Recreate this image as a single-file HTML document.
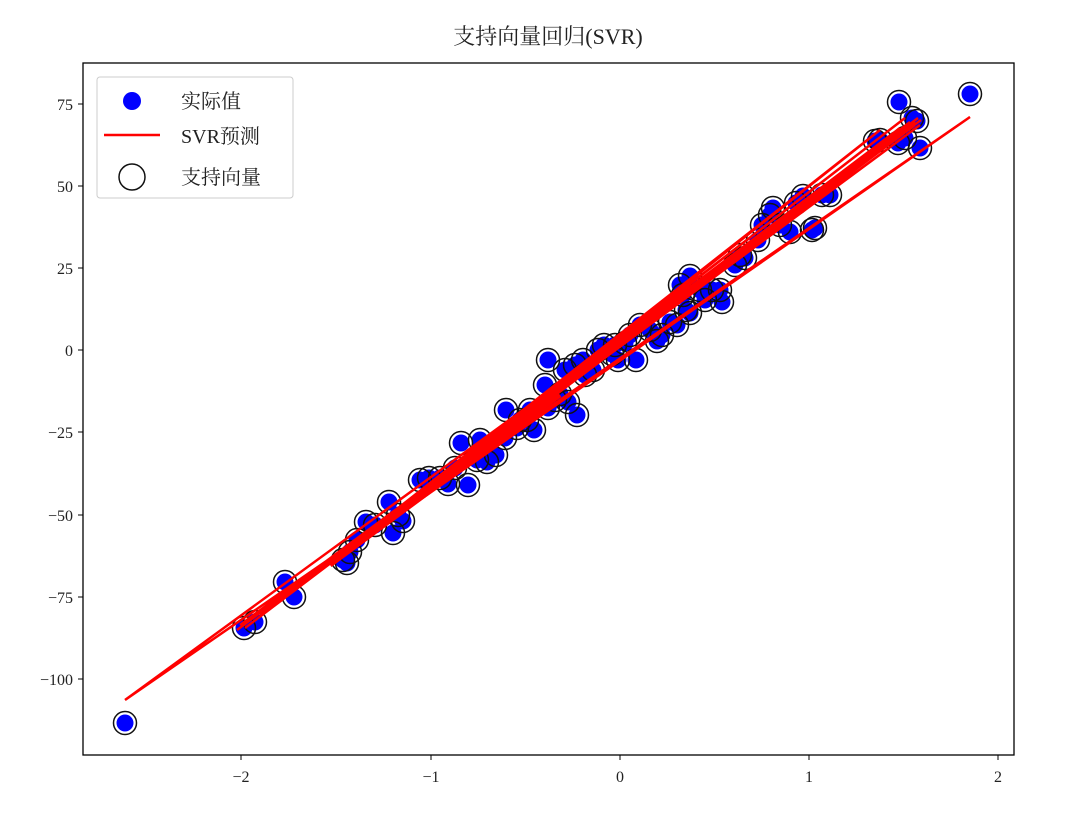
<!DOCTYPE html>
<html><head><meta charset="utf-8"><style>
body{margin:0;background:#fff}
svg text{font-family:"Liberation Serif","Noto Serif CJK SC",serif;fill:#222}
</style></head><body>
<svg width="1091" height="813" xmlns="http://www.w3.org/2000/svg">
<rect width="1091" height="813" fill="#fff"/>
<text x="548" y="44" font-size="22" text-anchor="middle">支持向量回归(SVR)</text>
<g id="pts"></g>
<polyline fill="none" stroke="#ff0000" stroke-width="2.5" points="237,630 921,120 125,700 970,117 240,625 915,125 260,615 905,118 300,585 880,130 350,550 910,122 245,628 918,118 270,606 900,128 330,560 915,122 250,620 920,125"/>
<polyline fill="none" stroke="#ff0000" stroke-width="5" points="330,565 560,395 345,550 600,360 380,525 540,405"/>
<rect x="83" y="63" width="931" height="692" fill="none" stroke="#000" stroke-width="1.3"/>
<g font-size="16" text-anchor="middle">
<line x1="241" y1="755" x2="241" y2="760" stroke="#000"/><text x="241" y="782">−2</text>
<line x1="431" y1="755" x2="431" y2="760" stroke="#000"/><text x="431" y="782">−1</text>
<line x1="620" y1="755" x2="620" y2="760" stroke="#000"/><text x="620" y="782">0</text>
<line x1="809" y1="755" x2="809" y2="760" stroke="#000"/><text x="809" y="782">1</text>
<line x1="998" y1="755" x2="998" y2="760" stroke="#000"/><text x="998" y="782">2</text>
</g>
<g font-size="16" text-anchor="end">
<line x1="78" y1="104" x2="83" y2="104" stroke="#000"/><text x="73" y="110">75</text>
<line x1="78" y1="186" x2="83" y2="186" stroke="#000"/><text x="73" y="192">50</text>
<line x1="78" y1="268" x2="83" y2="268" stroke="#000"/><text x="73" y="274">25</text>
<line x1="78" y1="350" x2="83" y2="350" stroke="#000"/><text x="73" y="356">0</text>
<line x1="78" y1="432" x2="83" y2="432" stroke="#000"/><text x="73" y="438">−25</text>
<line x1="78" y1="515" x2="83" y2="515" stroke="#000"/><text x="73" y="521">−50</text>
<line x1="78" y1="597" x2="83" y2="597" stroke="#000"/><text x="73" y="603">−75</text>
<line x1="78" y1="679" x2="83" y2="679" stroke="#000"/><text x="73" y="685">−100</text>
</g>
<rect x="97" y="77" width="196" height="121" rx="3" fill="#fff" fill-opacity="0.85" stroke="#ccc"/>
<circle cx="132" cy="101" r="9" fill="#0000ff"/>
<line x1="104" y1="135" x2="160" y2="135" stroke="#ff0000" stroke-width="2.5"/>
<circle cx="132" cy="177" r="13" fill="none" stroke="#111" stroke-width="1.5"/>
<g font-size="20"><text x="181" y="108">实际值</text><text x="181" y="143">SVR预测</text><text x="181" y="184">支持向量</text></g>
</svg>
<script>
var P=[[125,723],[244,628],[255,622],[285,582],[294,597],[366,522],[389,502],[393,533],[403,521],[343,560],[350,552],[347,563],[420,480],[429,478],[448,484],[468,485],[461,443],[477,460],[487,462],[496,455],[506,410],[505,438],[517,428],[527,420],[530,410],[534,430],[545,385],[548,360],[548,408],[560,394],[565,370],[568,402],[575,365],[577,415],[583,360],[593,370],[598,350],[604,345],[612,354],[618,360],[625,343],[630,335],[636,360],[640,325],[650,330],[657,341],[662,335],[670,322],[677,325],[680,285],[683,295],[690,276],[686,310],[690,313],[700,290],[705,300],[712,290],[722,302],[735,265],[740,255],[745,258],[758,240],[762,225],[770,215],[773,208],[790,232],[796,203],[803,196],[812,230],[815,228],[822,195],[830,195],[875,141],[899,102],[898,143],[905,138],[912,118],[917,121],[920,148],[970,94],[480,440],[455,468],[440,478],[375,525],[357,540],[398,515],[520,420],[555,400],[585,375],[615,345],[720,290],[780,225],[880,140]];
var s='';P.forEach(function(p){s+='<circle cx="'+p[0]+'" cy="'+p[1]+'" r="8.5" fill="#0000ff"/>'});
P.forEach(function(p){s+='<circle cx="'+p[0]+'" cy="'+p[1]+'" r="11.5" fill="none" stroke="#111" stroke-width="1.5"/>'});
document.getElementById('pts').innerHTML=s;
</script>
</body></html>
